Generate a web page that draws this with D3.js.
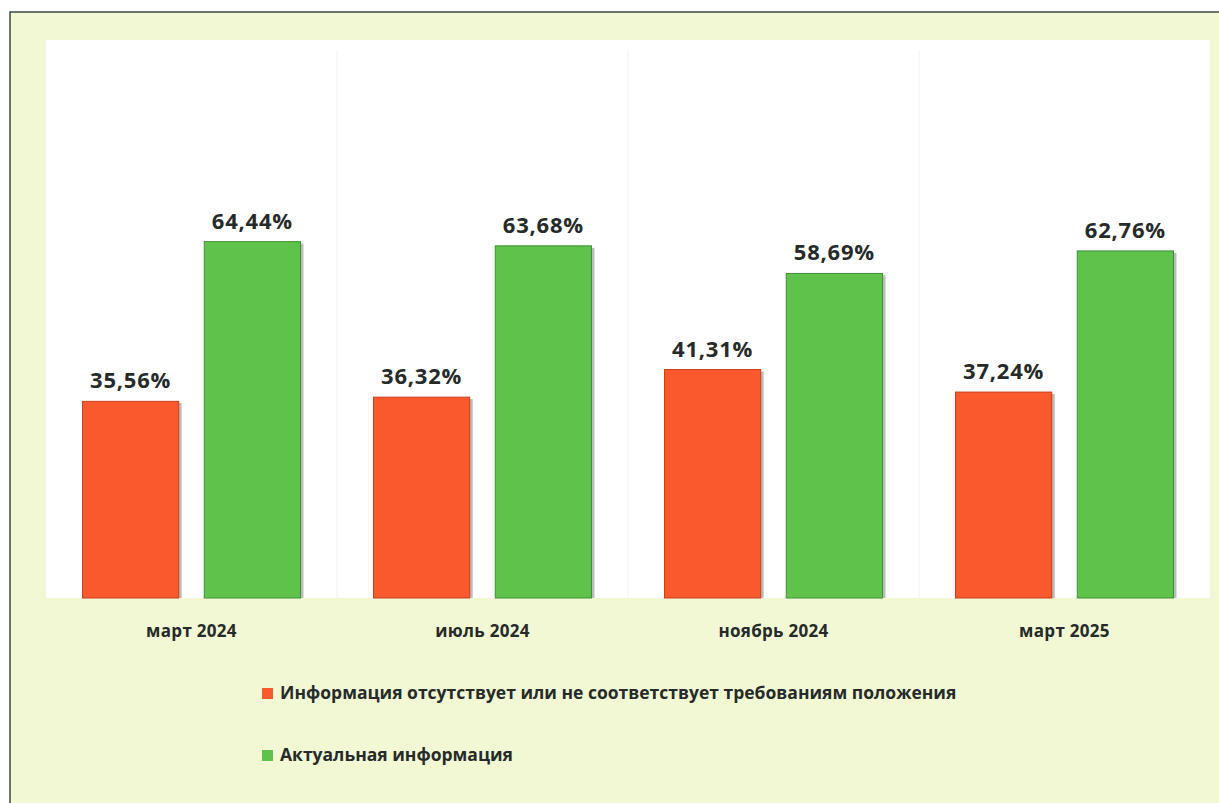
<!DOCTYPE html>
<html lang="ru">
<head>
<meta charset="utf-8">
<title>Актуальность информации</title>
<script src="https://d3js.org/d3.v7.min.js"></script>
<style>
  body { margin: 0; background: #ffffff; }
  text { font-family: "Open Sans", "Noto Sans", sans-serif; font-weight: 700; fill: #262b2a; }
</style>
</head>
<body>
<div id="chart"></div>
<script>
// data
let categories = ["март 2024", "июль 2024", "ноябрь 2024", "март 2025"];
let missingInfo = [35.56, 36.32, 41.31, 37.24];
let actualInfo = [64.44, 63.68, 58.69, 62.76];
let seriesNames = ["Информация отсутствует или не соответствует требованиям положения", "Актуальная информация"];
let seriesColors = ["#f9592c", "#5fc34b"];
let edgeColors = ["#c8401c", "#3f8f34"];

let width = 1219, height = 803;
let plot = { left: 46, right: 1210, top: 40, bottom: 598 };

let svg = d3.select("#chart").append("svg")
  .attr("width", width)
  .attr("height", height);

// page background + frame
svg.append("rect").attr("x", 0).attr("y", 0).attr("width", width).attr("height", height).attr("fill", "#ffffff");
svg.append("rect").attr("x", 10).attr("y", 12).attr("width", width).attr("height", height)
  .attr("fill", "#f2f8d4").attr("stroke", "#3a4a40").attr("stroke-width", 1.5);
svg.append("rect").attr("x", plot.left).attr("y", plot.top)
  .attr("width", plot.right - plot.left).attr("height", plot.bottom - plot.top)
  .attr("fill", "#ffffff");

let x0 = d3.scaleBand().domain(categories).range([plot.left, plot.right]).paddingInner(0).paddingOuter(0);
let x1 = d3.scaleBand().domain([0, 1]).range([0, x0.bandwidth()]).paddingInner(0.21).paddingOuter(0.3);
let y = d3.scaleLinear().domain([0, 100]).range([plot.bottom, plot.bottom - 553]);

// faint category separators
svg.selectAll(".sep").data(categories.slice(1)).enter().append("line")
  .attr("x1", d => x0(d)).attr("x2", d => x0(d))
  .attr("y1", plot.top + 10).attr("y2", plot.bottom)
  .attr("stroke", "#f2f2f0").attr("stroke-width", 1);

let rows = categories.map((c, i) => ({ cat: c, vals: [missingInfo[i], actualInfo[i]] }));

let groups = svg.selectAll(".grp").data(rows).enter().append("g")
  .attr("transform", d => "translate(" + x0(d.cat) + ",0)");

let bars = groups.selectAll(".bar").data(d => d.vals.map((v, s) => ({ v: v, s: s }))).enter();

// shadow on right side
bars.append("rect")
  .attr("x", d => x1(d.s) + 3)
  .attr("y", d => y(d.v) + 2)
  .attr("width", x1.bandwidth())
  .attr("height", d => plot.bottom - y(d.v) - 2)
  .attr("fill", "#6b6b6b").attr("opacity", 0.45);

bars.append("rect")
  .attr("x", d => x1(d.s))
  .attr("y", d => y(d.v))
  .attr("width", x1.bandwidth())
  .attr("height", d => plot.bottom - y(d.v))
  .attr("fill", d => seriesColors[d.s])
  .attr("stroke", d => edgeColors[d.s])
  .attr("stroke-width", 1);

bars.append("text")
  .attr("x", d => x1(d.s) + x1.bandwidth() / 2)
  .attr("y", d => y(d.v) - 13)
  .attr("text-anchor", "middle")
  .attr("font-size", 22)
  .attr("letter-spacing", 0.8)
  .text(d => d.v.toFixed(2).replace(".", ",") + "%");

// category labels
svg.selectAll(".cat").data(categories).enter().append("text")
  .attr("x", d => x0(d) + x0.bandwidth() / 2)
  .attr("y", 637)
  .attr("text-anchor", "middle")
  .attr("font-size", 17)
  .attr("letter-spacing", 0.3)
  .text(d => d);

// legend
let legend = svg.selectAll(".leg").data(seriesNames).enter().append("g")
  .attr("transform", (d, i) => "translate(262," + (693 + i * 62) + ")");
legend.append("rect")
  .attr("x", 0).attr("y", -5).attr("width", 11).attr("height", 11)
  .attr("fill", (d, i) => seriesColors[i]);
legend.append("text")
  .attr("x", 18).attr("y", 6)
  .attr("font-size", 17.5)
  .text(d => d);
</script>
</body>
</html>
